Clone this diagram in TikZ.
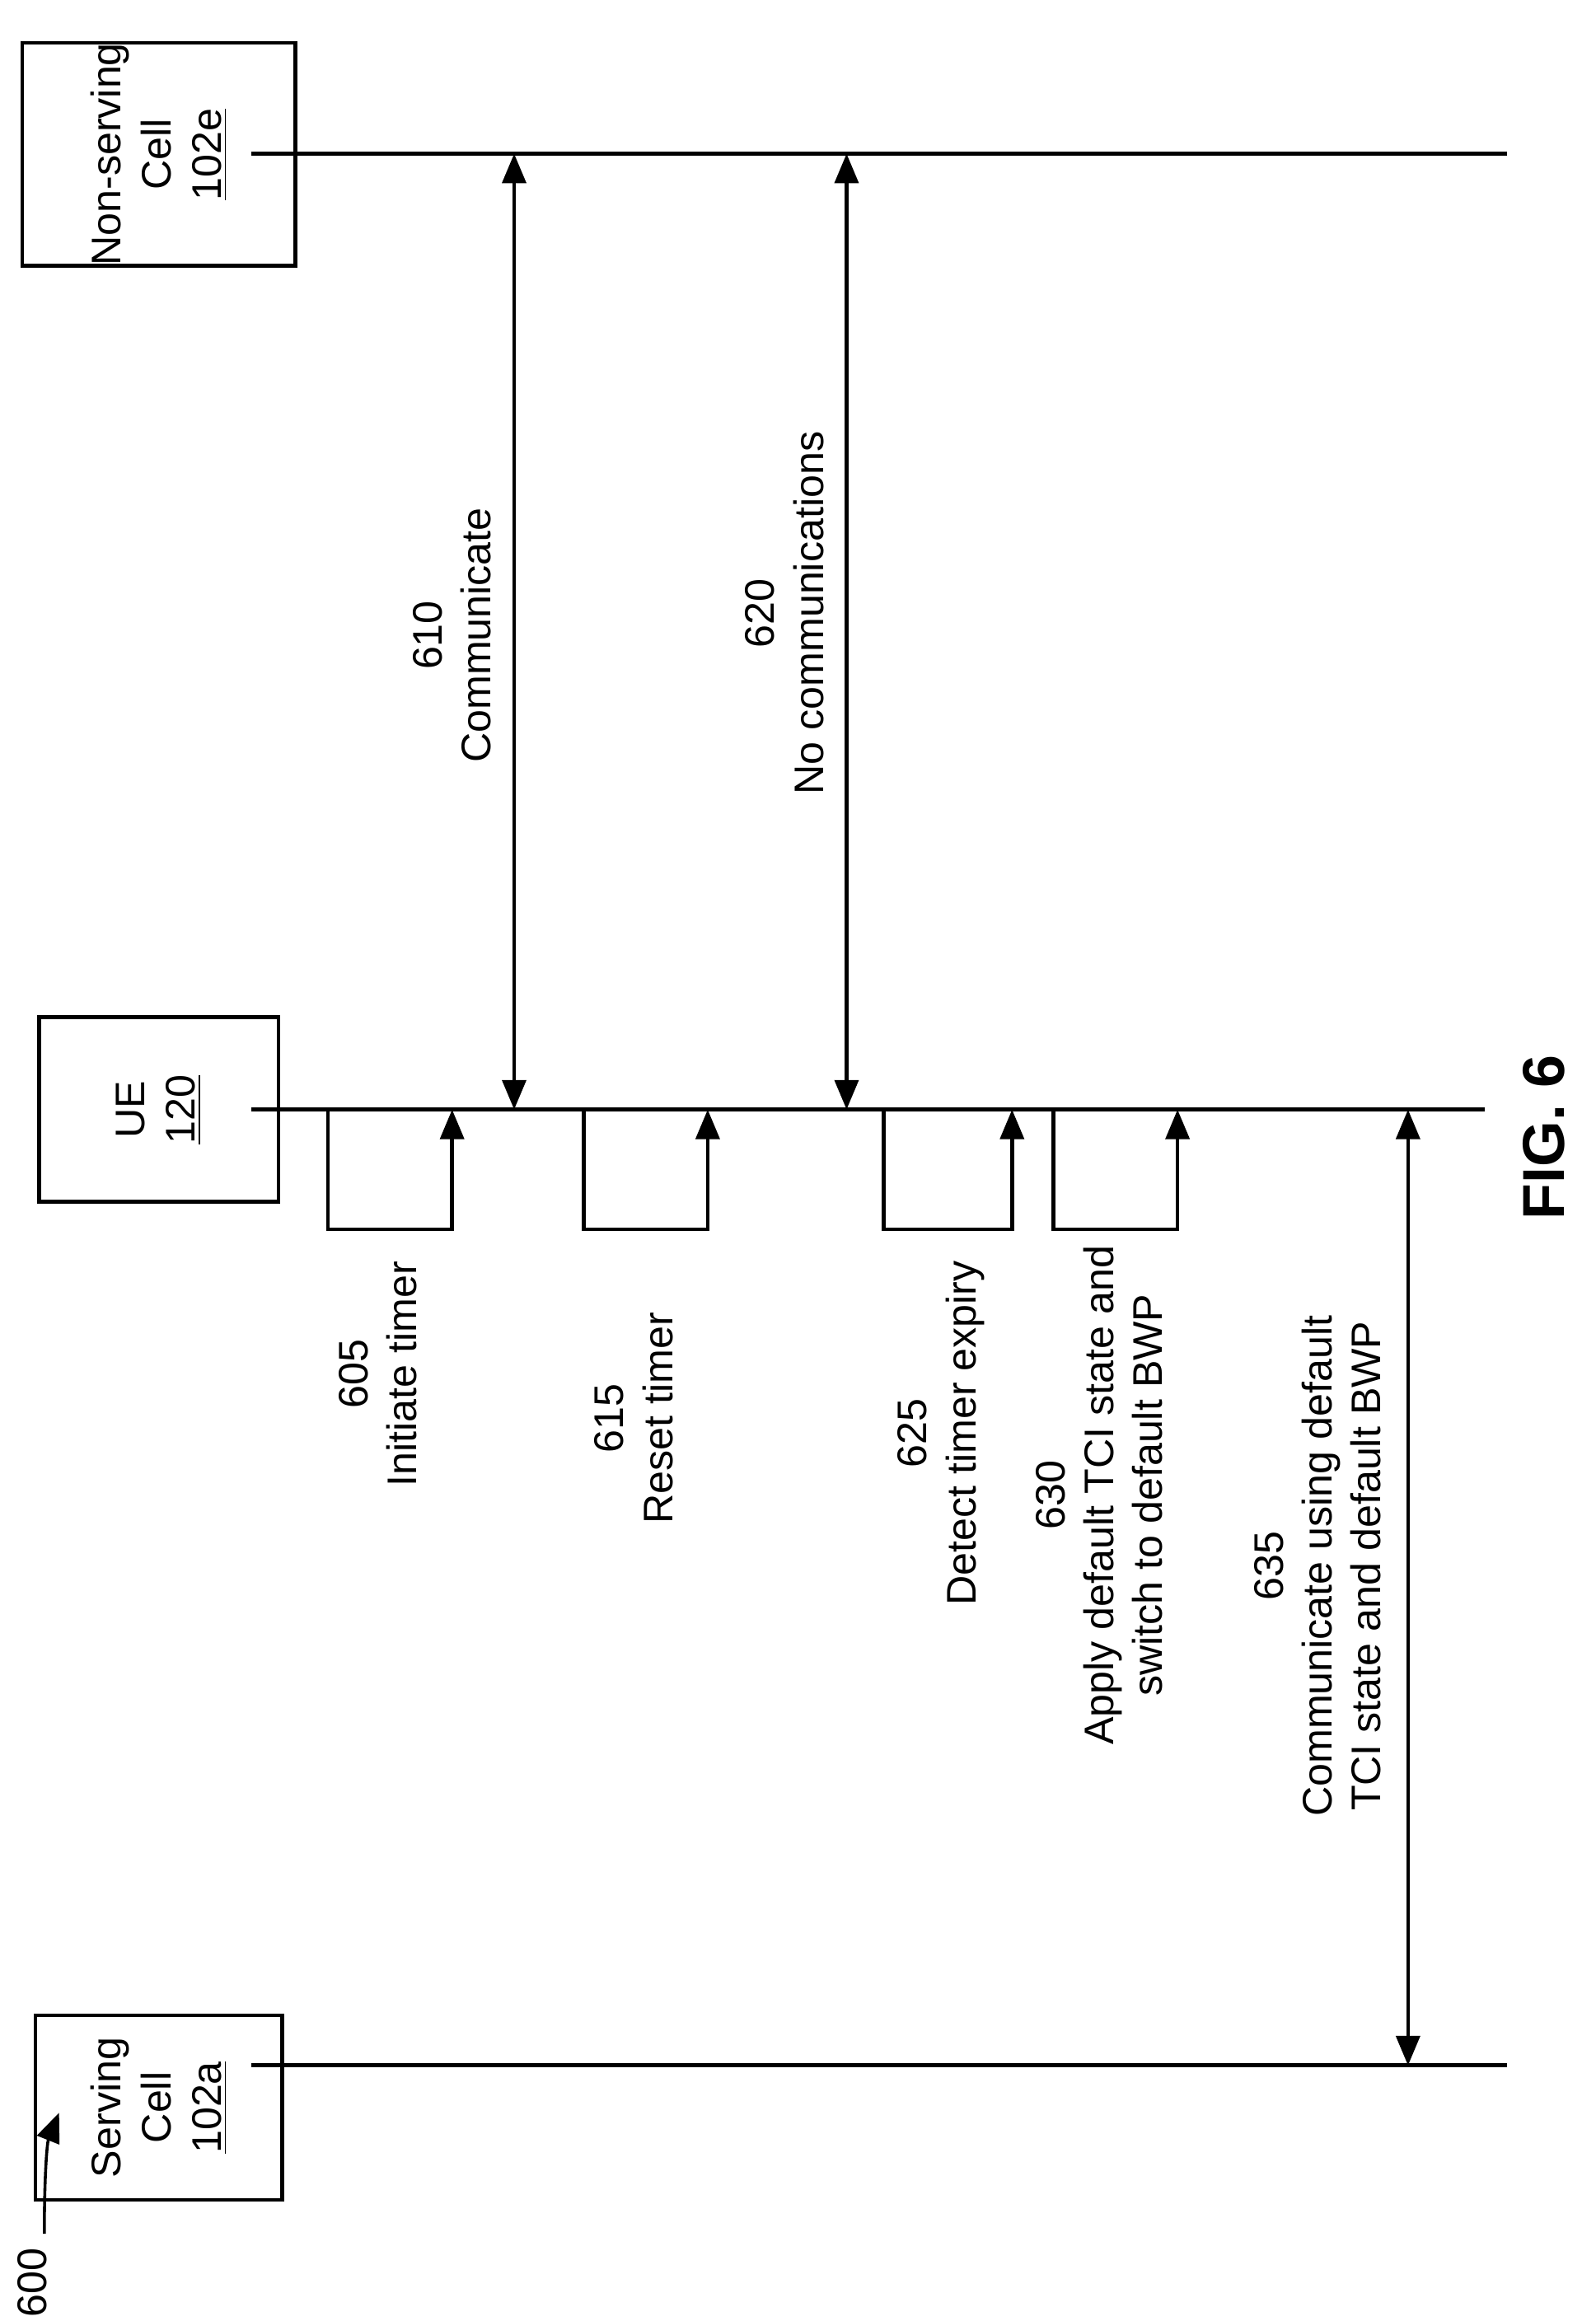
\documentclass[tikz,border=0pt]{standalone}
\usepackage{fontspec}
\setmainfont{Liberation Sans}
\usetikzlibrary{arrows.meta}
\begin{document}
\begin{tikzpicture}[x=0.5pt,y=-0.5pt,line width=1.3pt,
  box/.style={draw,minimum width=62.5pt,align=center,inner sep=0pt,font=\fontsize{14}{17}\selectfont},
  lbl/.style={rotate=90,align=center,font=\fontsize{14}{16.5}\selectfont,inner sep=0pt},
  arr/.style={-{Triangle[length=10pt,width=8pt]}},
  darr/.style={{Triangle[length=10pt,width=8pt]}-{Triangle[length=10pt,width=8pt]}}]
\useasboundingbox (0,0) rectangle (1080,1571);
\node[box,minimum height=92.5pt,rotate=90] (ns) at (107.5,104.5) {Non-serving\\Cell\\\underline{102e}};
\node[box,minimum height=81pt,rotate=90] (ue) at (107.5,751) {UE\\\underline{120}};
\node[box,minimum height=83.5pt,rotate=90] (sc) at (107.5,1426.5) {Serving\\Cell\\\underline{102a}};
\coordinate (nsE) at (1020,104); \coordinate (ueE) at (1005,751); \coordinate (scE) at (1020,1398);
\draw (170,104) -- (nsE);
\draw (170,751) -- (ueE);
\draw (170,1398) -- (scE);
% 600
\node[lbl] (n600) at (22,1545) {600};
\coordinate (c600) at (40,1430);
\draw[arr,line width=1pt] (30,1512) .. controls (30,1470) and (32,1450) .. (c600);
% double arrows
\coordinate (a1) at (348,104); \coordinate (a2) at (348,751);
\draw[darr] (a1) -- (a2);
\node[lbl] (l610) at (306,430) {610\\Communicate};
\coordinate (b1) at (573,104); \coordinate (b2) at (573,751);
\draw[darr] (b1) -- (b2);
\node[lbl] (l620) at (531,415) {620\\No communications};
\coordinate (d1) at (953,751); \coordinate (d2) at (953,1398);
\draw[darr] (d1) -- (d2);
\node[lbl] (l635) at (892,1060) {635\\Communicate using default\\TCI state and default BWP};
% loops
\foreach \a/\b in {222/306,395/479,598/685,713/797}{
  \draw[arr] (\a,751) -- (\a,832) -- (\b,832) -- (\b,751);
}
\node[lbl] (l605) at (256,930) {605\\Initiate timer};
\node[lbl] (l615) at (429,960) {615\\Reset timer};
\node[lbl] (l625) at (637,970) {625\\Detect timer expiry};
\node[lbl] (l630) at (744,1012) {630\\Apply default TCI state and\\switch to default BWP};
\node[rotate=90,font=\bfseries\fontsize{20}{24}\selectfont] (fig) at (1045,770) {FIG. 6};
\end{tikzpicture}
\end{document}
